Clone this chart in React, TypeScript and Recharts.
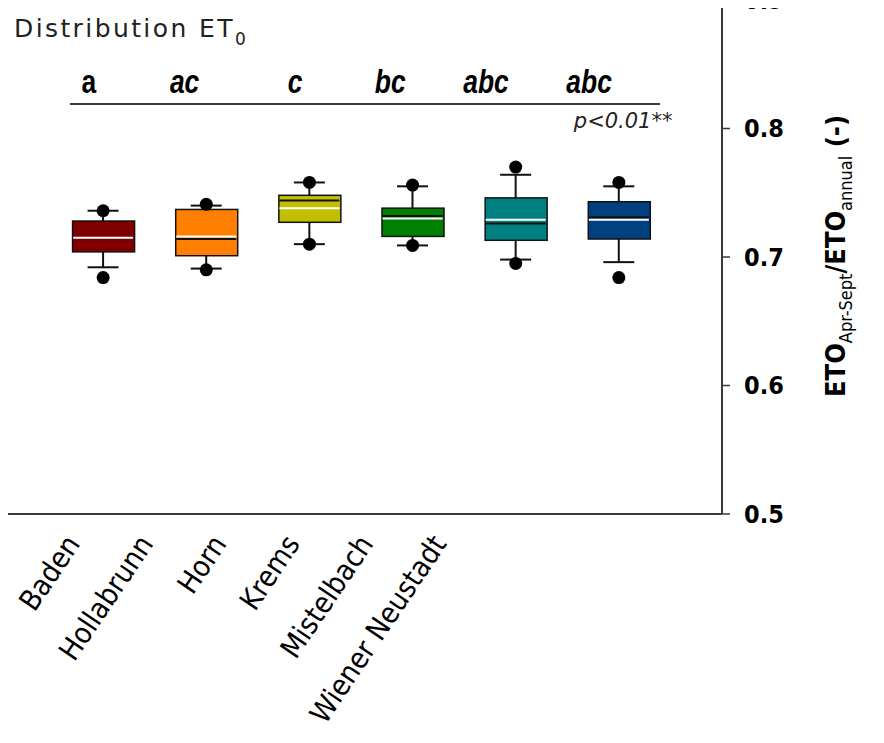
import { ComposedChart, Bar, Scatter, XAxis, YAxis, ReferenceLine, ReferenceDot, Cell } from "recharts";

const stations = ["Baden", "Hollabrunn", "Horn", "Krems", "Mistelbach", "Wiener Neustadt"];
const letters = ["a", "ac", "c", "bc", "abc", "abc"];
const q1 = [0.704, 0.701, 0.727, 0.716, 0.713, 0.714];
const q3 = [0.728, 0.737, 0.748, 0.738, 0.746, 0.743];
const median = [0.715, 0.714, 0.744, 0.732, 0.726, 0.731];
const mean = [0.715, 0.716, 0.738, 0.73, 0.729, 0.729];
const whiskerLow = [0.692, 0.691, 0.71, 0.709, 0.698, 0.696];
const whiskerHigh = [0.736, 0.74, 0.758, 0.755, 0.764, 0.755];
const outLow = [0.684, 0.69, 0.71, 0.709, 0.695, 0.684];
const outHigh = [0.736, 0.741, 0.758, 0.756, 0.77, 0.758];
const yTicks = [0.5, 0.6, 0.7, 0.8, 0.9];

const colors = ["#800000", "#ff8000", "#c0c000", "#008000", "#008080", "#004080"];
const axisColor = "#3a3a3a";
const cond = "'DejaVu Sans Condensed', 'DejaVu Sans', sans-serif";

const data = stations.map((name, i) => ({
  name,
  pos: i + 1,
  box: [q1[i], q3[i]],
  whisker: [whiskerLow[i], whiskerHigh[i]],
  median: median[i],
  mean: mean[i],
  outLow: outLow[i],
  outHigh: outHigh[i],
}));

const norm = (p: any) => {
  const top = p.height < 0 ? p.y + p.height : p.y;
  return { top, h: Math.abs(p.height) };
};

const WhiskerShape = (p: any) => {
  const { top, h } = norm(p);
  const cx = p.x + p.width / 2;
  return (
    <g stroke="#111" strokeWidth={2}>
      <line x1={cx} x2={cx} y1={top} y2={top + h} />
      <line x1={p.x} x2={p.x + p.width} y1={top} y2={top} />
      <line x1={p.x} x2={p.x + p.width} y1={top + h} y2={top + h} />
    </g>
  );
};

const BoxShape = (p: any) => {
  const { top, h } = norm(p);
  return <rect x={p.x} y={top} width={p.width} height={h} fill={p.fill} stroke="#111" strokeWidth={1.5} />;
};

const lineShape = (color: string) => (p: any) =>
  <line x1={p.cx - 30} x2={p.cx + 30} y1={p.cy} y2={p.cy} stroke={color} strokeWidth={2} />;

const DotShape = (p: any) => <circle cx={p.cx} cy={p.cy} r={6.5} fill="#000" />;

const StationTick = (p: any) => (
  <text
    transform={`translate(${p.x},${p.y}) rotate(-56)`}
    textAnchor="end"
    fontFamily={cond}
    fontStretch="condensed"
    fontSize={29}
    fill="#000"
  >
    {stations[p.payload.value - 1]}
  </text>
);

export default function App() {
  return (
    <div style={{ position: "relative", width: 884, height: 743, margin: "-8px 0 0 -8px", background: "#fff" }}>
      <ComposedChart width={884} height={743} data={data} margin={{ top: 0, right: 0, left: 0, bottom: 0 }}>
        <XAxis
          dataKey="pos"
          type="number"
          domain={[0, 7]}
          allowDataOverflow
          ticks={[1, 2, 3, 4, 5, 6]}
          height={8}
          tick={false}
          tickSize={3}
          axisLine={{ stroke: axisColor, strokeWidth: 2 }}
          tickLine={{ stroke: axisColor, strokeWidth: 1.5 }}
        />
        <XAxis
          xAxisId="lab"
          dataKey="pos"
          type="number"
          domain={[-0.105, 9.745]}
          allowDataOverflow
          ticks={[1, 2, 3, 4, 5, 6]}
          interval={0}
          height={221}
          axisLine={false}
          tickLine={false}
          tickSize={0}
          tickMargin={22}
          tick={<StationTick />}
        />
        <XAxis xAxisId="w" dataKey="pos" type="number" domain={[0, 7]} allowDataOverflow hide />
        <YAxis
          orientation="right"
          width={162}
          domain={[0.5, 0.9]}
          ticks={yTicks}
          interval={0}
          allowDataOverflow
          tickFormatter={(v: number) => v.toFixed(1)}
          tickSize={8}
          tickMargin={14}
          axisLine={{ stroke: axisColor, strokeWidth: 2 }}
          tickLine={{ stroke: axisColor, strokeWidth: 1.5 }}
          tick={{ fill: "#000", fontSize: 25, fontWeight: 700, fontFamily: cond, textAnchor: "start" }}
        />
        <ReferenceLine y={0.9} stroke={axisColor} strokeWidth={2} />
        <ReferenceLine
          segment={[{ x: 0.679, y: 0.819 }, { x: 6.399, y: 0.819 }]}
          stroke={axisColor}
          strokeWidth={2}
        />
        {letters.map((l, i) => (
          <ReferenceDot
            key={i}
            x={i + 1}
            y={0.8276}
            r={0}
            shape={(p: any) => (
              <text
                transform={`translate(${p.cx - 7},${p.cy}) scale(0.8,1)`}
                textAnchor="end"
                fontFamily="'Liberation Sans', Arial, sans-serif"
                fontStyle={i === 0 ? "normal" : "italic"}
                fontWeight={700}
                fontSize={33}
                fill="#000"
              >
                {l}
              </text>
            )}
          />
        ))}
        <ReferenceDot
          x={6.52}
          y={0.8004}
          r={0}
          shape={(p: any) => (
            <text x={p.cx} y={p.cy} textAnchor="end" fontFamily="'DejaVu Sans', sans-serif" fontStyle="italic" fontSize={21} fill="#222">
              p&lt;0.01**
            </text>
          )}
        />
        <Bar xAxisId="w" dataKey="whisker" barSize={31} shape={<WhiskerShape />} isAnimationActive={false} />
        <Bar dataKey="box" barSize={62} shape={<BoxShape />} isAnimationActive={false}>
          {data.map((d, i) => (
            <Cell key={d.name} fill={colors[i]} />
          ))}
        </Bar>
        <Scatter dataKey="median" shape={lineShape("#111")} isAnimationActive={false} />
        <Scatter dataKey="mean" shape={lineShape("#fff")} isAnimationActive={false} />
        <Scatter dataKey="outHigh" shape={<DotShape />} isAnimationActive={false} />
        <Scatter dataKey="outLow" shape={<DotShape />} isAnimationActive={false} />
      </ComposedChart>
      <div
        style={{
          position: "absolute",
          left: 14,
          top: 16,
          fontFamily: "'DejaVu Sans', sans-serif",
          fontSize: 25,
          lineHeight: 1,
          letterSpacing: 2.4,
          color: "#222",
          whiteSpace: "nowrap",
        }}
      >
        Distribution ET<span style={{ fontSize: 17, position: "relative", top: 8 }}>0</span>
      </div>
      <div
        style={{
          position: "absolute",
          left: 835,
          top: 256,
          transform: "translate(-50%, -50%) rotate(-90deg)",
          fontFamily: cond,
          fontStretch: "condensed",
          fontWeight: 700,
          fontSize: 27,
          lineHeight: 1,
          color: "#000",
          whiteSpace: "nowrap",
        }}
      >
        ETO<span style={{ fontSize: 18, fontWeight: 400, position: "relative", top: 7 }}>Apr-Sept</span>/ETO
        <span style={{ fontSize: 18, fontWeight: 400, position: "relative", top: 7 }}>annual</span> (-)
      </div>
    </div>
  );
}
